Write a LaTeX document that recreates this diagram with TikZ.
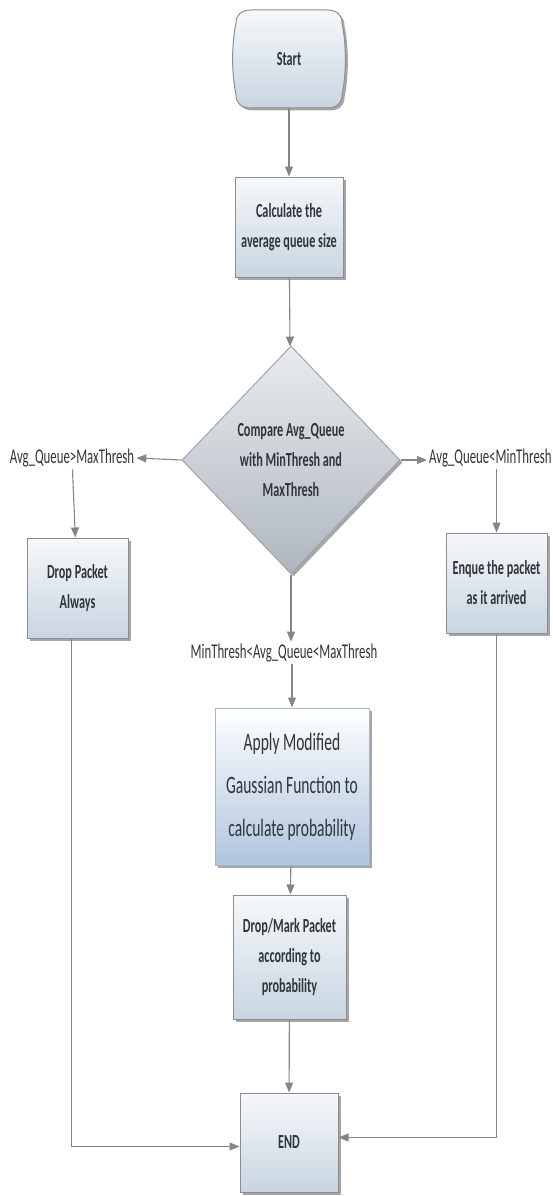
\documentclass[tikz,border=0pt]{standalone}
\usepackage{fontspec}
\setmainfont{Carlito}[FakeStretch=0.61]
\newfontfamily\bigfont{Carlito}[FakeStretch=0.62]
\usetikzlibrary{shapes.geometric,arrows.meta,shadows}
\definecolor{txt}{HTML}{30353A}
\definecolor{boxline}{HTML}{8A8E92}
\definecolor{boxtop}{HTML}{F6F8FA}
\definecolor{boxbot}{HTML}{C8D5E1}
\definecolor{apptop}{HTML}{FFFFFF}
\definecolor{appbot}{HTML}{B0C4DE}
\definecolor{appline}{HTML}{A6B6CA}
\definecolor{diatop}{HTML}{E9ECEE}
\definecolor{diabot}{HTML}{AEB6BF}
\definecolor{lineg}{HTML}{858585}
\begin{document}
\begin{tikzpicture}[x=1pt,y=-1pt,
  boxfont/.style={font=\fontsize{21}{30}\selectfont},
  shade/.style={drop shadow={shadow xshift=2.5pt,shadow yshift=-2.5pt,fill=black,opacity=0.35}},
  stepbox/.style={rectangle,draw=boxline,line width=1pt,top color=boxtop,bottom color=boxbot,
    text=txt,align=center,inner sep=0pt,font=\bfseries\fontsize{20}{30}\selectfont,shade},
  lbl/.style={text=txt,inner sep=2pt,boxfont},
  arr/.style={draw=lineg,line width=1.1pt,-{Triangle[length=10pt,width=8pt]}}]
\useasboundingbox (0,0) rectangle (553,1196);

% Start terminal: outline drawn round a named node
\coordinate (sc) at (289,59);
\path[shift={(sc)},draw=boxline,line width=1pt,top color=boxtop,bottom color=boxbot,shade]
  (-38,-49) -- (38,-49) .. controls (48,-49) and (53,-44) .. (53,-36)
  .. controls (57.5,-14) and (57.5,14) .. (53,36)
  .. controls (53,44) and (48,49) .. (38,49) -- (-38,49)
  .. controls (-48,49) and (-53,44) .. (-53,36)
  .. controls (-57.5,14) and (-57.5,-14) .. (-53,-36)
  .. controls (-53,-44) and (-48,-49) .. (-38,-49) -- cycle;
\node[rectangle,text=txt,font=\bfseries\fontsize{20}{30}\selectfont,
  minimum width=112pt,minimum height=98pt,inner sep=0pt] (start) at (sc) {Start};

\node[stepbox,minimum width=108pt,minimum height=100pt] (calc) at (289,227)
  {Calculate the\\average queue size};

\node[diamond,draw=boxline!80,line width=1pt,top color=diatop,bottom color=diabot,
  text=txt,align=center,font=\bfseries\fontsize{20}{30}\selectfont,inner sep=0pt,shade,
  minimum width=218pt,minimum height=228pt] (dec) at (291,460)
  {Compare Avg\_Queue\\with MinThresh and\\MaxThresh};

\node[lbl] (lblL) at (72,458) {Avg\_Queue>MaxThresh};
\node[lbl,anchor=west] (lblR) at (427,458) {Avg\_Queue<MinThresh};
\node[lbl] (lblM) at (284,653) {MinThresh<Avg\_Queue<MaxThresh};

\node[stepbox,minimum width=101pt,minimum height=100pt] (drop) at (77.5,588)
  {Drop Packet\\Always};
\node[stepbox,minimum width=101pt,minimum height=100pt] (enq) at (496.5,583)
  {Enque the packet\\as it arrived};

\node[rectangle,draw=appline,line width=1pt,top color=apptop,bottom color=appbot,
  text=txt,align=center,inner sep=0pt,shade,
  font=\bigfont\fontsize{25}{43}\selectfont,
  minimum width=154pt,minimum height=157pt] (apply) at (292,786.5)
  {Apply Modified\\Gaussian Function to\\calculate probability};

\node[stepbox,minimum width=113pt,minimum height=124pt] (mark) at (289.5,957)
  {Drop/Mark Packet\\according to\\probability};

\node[stepbox,minimum width=98pt,minimum height=99pt] (end) at (289,1142.5) {END};

\draw[arr] (start) -- (calc);
\draw[arr] (calc) -- (dec);
\draw[arr] (dec.west) -- (lblL.east);
\draw[arr] (dec.east) -- (dec.east -| lblR.west);
\draw[arr] (lblL) -- (drop);
\draw[arr] (lblR.south -| enq.north) -- (enq.north);
\draw[arr] (dec.south) -- (dec.south |- lblM.north);
\draw[arr] (lblM.south -| apply.north) -- (apply.north);
\draw[arr] (apply) -- (mark);
\draw[arr] (mark) -- (end);
\draw[arr] ([xshift=-6pt]drop.south) |- ([yshift=-4pt]end.west);
\draw[arr] (enq.south) |- ([yshift=5pt]end.east);
\end{tikzpicture}
\end{document}
